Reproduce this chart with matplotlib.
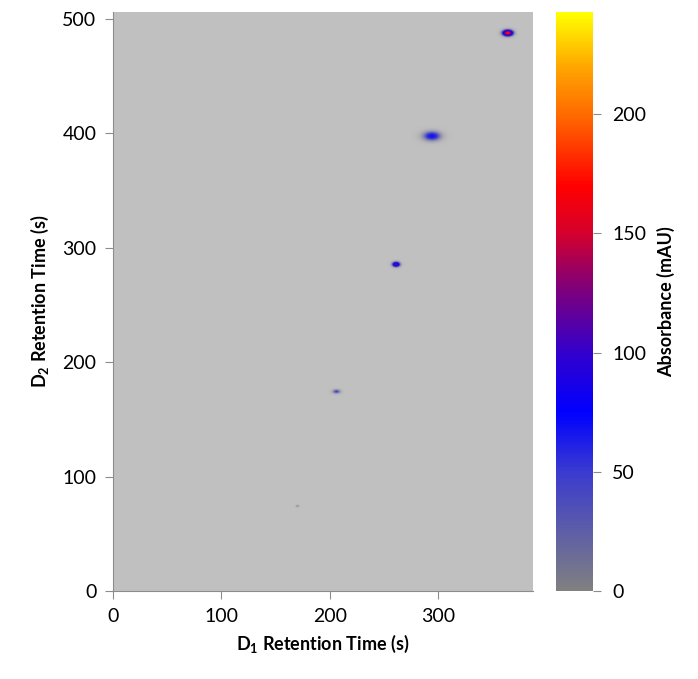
import matplotlib
matplotlib.use("Agg")
import matplotlib.pyplot as plt
import numpy as np
from matplotlib.colors import LinearSegmentedColormap, Normalize
from matplotlib.cm import ScalarMappable

plt.rcParams["font.family"] = ["Lato", "DejaVu Sans"]
plt.rcParams["mathtext.fontset"] = "custom"
plt.rcParams["mathtext.rm"] = "Lato"
plt.rcParams["mathtext.bf"] = "Lato:bold"

# peaks (retention times in s, heights in mAU)
peak_d1 = [170, 206, 261, 294, 364]
peak_d2 = [74, 174, 285, 397, 487]
peak_height = [30, 50, 125, 68, 180]
peak_sd1 = [1.0, 2.6, 2.4, 6.0, 3.2]
peak_sd2 = [0.7, 1.3, 1.5, 3.0, 1.8]

x_max, y_max = 388, 506
z_max = 243

cmap_stops = [(0.0, "#808080"), (50 / z_max, "#3a3ad0"), (75 / z_max, "#0000ff"),
              (100 / z_max, "#3300cc"), (130 / z_max, "#880070"), (150 / z_max, "#d4002e"),
              (170 / z_max, "#ff0000"), (200 / z_max, "#ff6a00"), (220 / z_max, "#ffa500"),
              (1.0, "#ffff00")]
cmap = LinearSegmentedColormap.from_list("abs", cmap_stops)
norm = Normalize(0, z_max)

# field built from the peak table
xs = np.linspace(0, x_max, 1200)
ys = np.linspace(0, y_max, 1600)
X, Y = np.meshgrid(xs, ys)
Z = np.zeros_like(X)
for d1, d2, h, s1, s2 in zip(peak_d1, peak_d2, peak_height, peak_sd1, peak_sd2):
    Z += h * np.exp(-0.5 * (((X - d1) / s1) ** 2 + ((Y - d2) / s2) ** 2))

rgba = cmap(norm(Z))
rgba[..., 3] = np.clip(Z / 50.0, 0, 1)

fig = plt.figure(figsize=(6.98, 6.79), dpi=100)
ax = fig.add_axes([0.162, 0.1296, 0.602, 0.853])
ax.set_facecolor("#c0c0c0")
ax.imshow(rgba, extent=[0, x_max, 0, y_max], origin="lower", aspect="auto",
          interpolation="bilinear")
ax.set_xlim(0, x_max)
ax.set_ylim(0, y_max)
ax.set_xticks([0, 100, 200, 300])
ax.set_yticks([0, 100, 200, 300, 400, 500])
for s in ["top", "right"]:
    ax.spines[s].set_visible(False)
for s in ["left", "bottom"]:
    ax.spines[s].set_color("#8c8c8c")
ax.tick_params(direction="out", length=6, color="#8c8c8c", labelsize=14, pad=6)
ax.set_xlabel(r"$\mathbf{D_1}$ Retention Time (s)", fontsize=13, fontweight="bold", labelpad=6)
ax.set_ylabel(r"$\mathbf{D_2}$ Retention Time (s)", fontsize=13, fontweight="bold", labelpad=8)

cax = fig.add_axes([0.797, 0.1296, 0.052, 0.853])
sm = ScalarMappable(norm=norm, cmap=cmap)
cb = fig.colorbar(sm, cax=cax)
cb.outline.set_visible(False)
cb.set_ticks([0, 50, 100, 150, 200])
cax.tick_params(direction="out", length=6, color="#8c8c8c", labelsize=14, pad=8)
cb.set_label("Absorbance (mAU)", fontsize=13, fontweight="bold", labelpad=8)

fig.savefig("out.png", dpi=100)
